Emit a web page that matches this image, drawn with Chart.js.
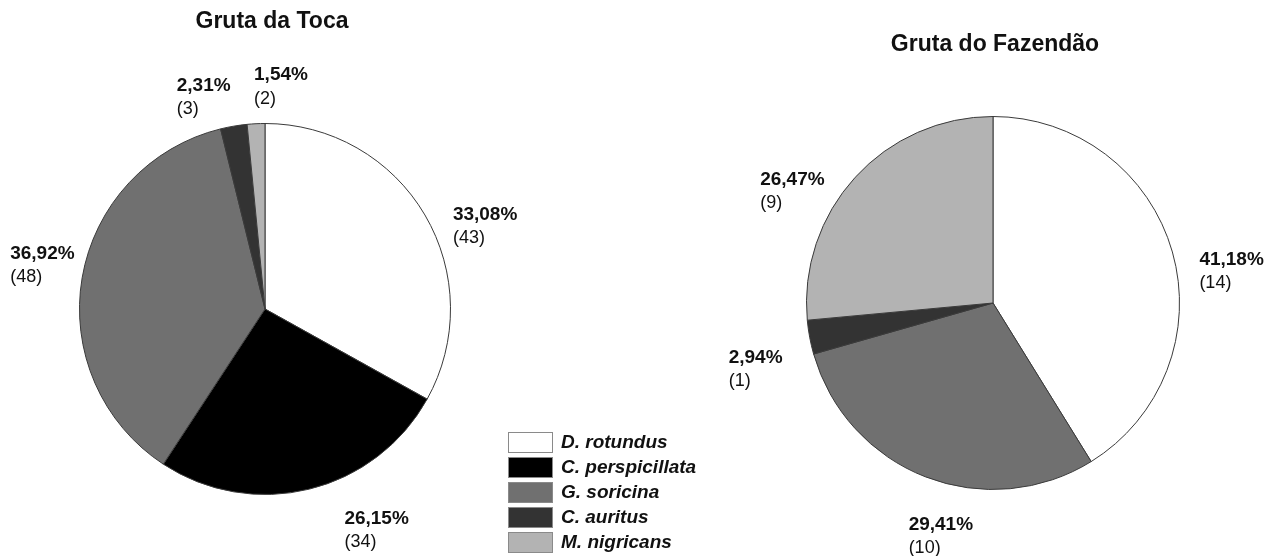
<!DOCTYPE html>
<html>
<head>
<meta charset="utf-8">
<script src="https://cdn.jsdelivr.net/npm/chart.js@4"></script>
<style>
body{margin:0;background:#fff;width:1280px;height:556px;overflow:hidden;position:relative;font-family:Arial,"Liberation Sans",sans-serif;}
.box{position:absolute;top:0;width:640px;height:556px;}
#legend{position:absolute;left:508px;top:432px;}
.row{height:25px;display:flex;align-items:flex-start;}
.sw{width:43px;height:19px;border:1px solid #8a8a8a;margin-right:8px;}
.lb{font-weight:bold;font-style:italic;font-size:19px;line-height:20px;color:#111;}
</style>
</head>
<body>
<div class="box" style="left:0"><canvas id="m1" width="640" height="556"></canvas></div>
<div class="box" style="left:640px"><canvas id="m2" width="640" height="556"></canvas></div>
<div id="legend"></div>
<script>
// species and counts
var species = ['D. rotundus', 'C. perspicillata', 'G. soricina', 'C. auritus', 'M. nigricans'];
var colors = ['#ffffff', '#000000', '#707070', '#333333', '#b3b3b3'];
var toca = [43, 34, 48, 3, 2];
var tocaPct = ['33,08%', '26,15%', '36,92%', '2,31%', '1,54%'];
var fazendao = [14, 0, 10, 1, 9];
var fazendaoPct = ['41,18%', '', '29,41%', '2,94%', '26,47%'];

var font = 'Arial, "Liberation Sans", sans-serif';

// label offsets from the middle of each slice's rim [dx, dy]
var tocaOff = [[28, -10], [35, 20], [-72, -34], [-57, -50], [-2, -58]];
var fazOff = [[27, -2], [0, 0], [-17, 38], [-81, 11], [-95, -7]];

function labelPlugin(title, tx, ty, pct, off) {
    return {
        id: 'lbl',
        afterDatasetsDraw: function(chart) {
            var ctx = chart.ctx;
            ctx.save();
            ctx.fillStyle = '#111';
            ctx.textAlign = 'center';
            ctx.textBaseline = 'middle';
            ctx.font = 'bold 23px ' + font;
            ctx.fillText(title, tx, ty);
            ctx.textAlign = 'left';
            ctx.textBaseline = 'top';
            var data = chart.data.datasets[0].data;
            chart.getDatasetMeta(0).data.forEach(function(arc, i) {
                if (!data[i]) return;
                var p = arc.getProps(['x', 'y', 'startAngle', 'endAngle', 'outerRadius'], true);
                var a = (p.startAngle + p.endAngle) / 2;
                var x = p.x + Math.cos(a) * p.outerRadius + off[i][0];
                var y = p.y + Math.sin(a) * p.outerRadius + off[i][1];
                ctx.font = 'bold 19px ' + font;
                ctx.fillText(pct[i], x, y);
                ctx.font = '18px ' + font;
                ctx.fillText('(' + data[i] + ')', x, y + 24);
            });
            ctx.restore();
        }
    };
}

function makePie(id, values, pad, plugin) {
    var ctx = document.getElementById(id).getContext('2d');
    return new Chart(ctx, {
        type: 'pie',
        data: {
            labels: species,
            datasets: [{
                data: values,
                backgroundColor: colors,
                borderColor: '#3a3a3a',
                borderWidth: 1
            }]
        },
        options: {
            responsive: false,
            animation: false,
            layout: { padding: pad },
            plugins: {
                legend: { display: false },
                tooltip: { enabled: false }
            }
        },
        plugins: [plugin]
    });
}

//toca
var chart1 = makePie('m1', toca, { left: 79, right: 189, top: 123, bottom: 61 },
    labelPlugin('Gruta da Toca', 272, 22, tocaPct, tocaOff));

//fazendao
var chart2 = makePie('m2', fazendao, { left: 166, right: 100, top: 116, bottom: 66 },
    labelPlugin('Gruta do Fazendão', 355, 45, fazendaoPct, fazOff));

// legend
var lg = document.getElementById('legend');
for (var i = 0; i < species.length; i++) {
    var row = document.createElement('div');
    row.className = 'row';
    row.innerHTML = '<div class="sw" style="background:' + colors[i] + '"></div><div class="lb">' + species[i] + '</div>';
    lg.appendChild(row);
}
</script>
</body>
</html>
